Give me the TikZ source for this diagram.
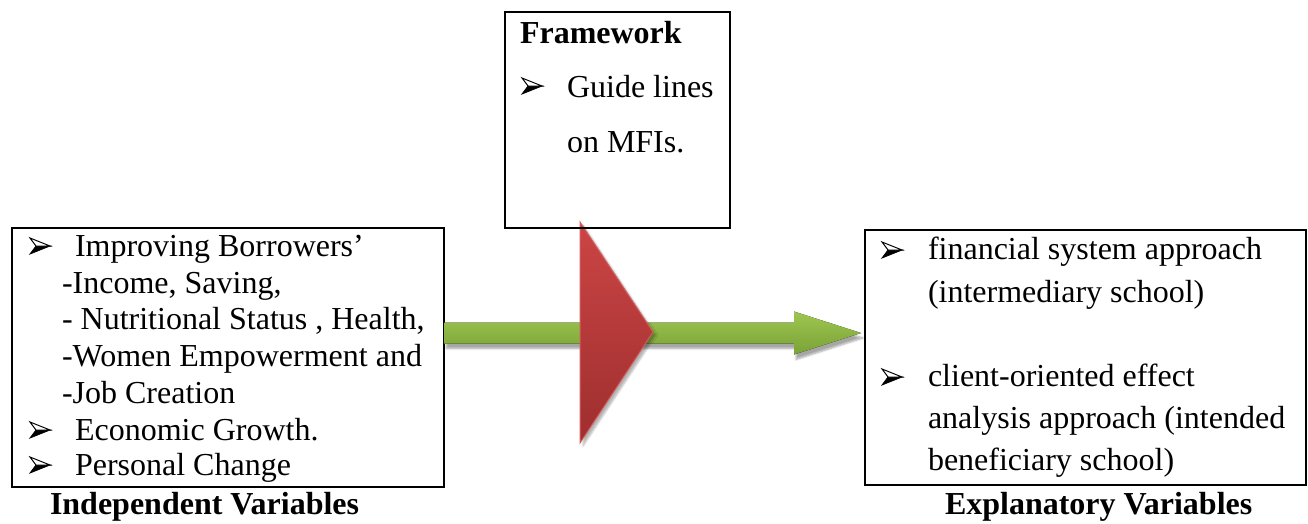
\documentclass[tikz,border=0pt]{standalone}
\usepackage{fontspec}
\setmainfont{Liberation Serif}
\newfontfamily\tnr{Liberation Serif}
\usetikzlibrary{calc,shadows.blur}
\definecolor{gtop}{HTML}{9DC651}
\definecolor{gbot}{HTML}{7AA236}
\definecolor{rtop}{HTML}{CC4545}
\definecolor{rbot}{HTML}{9E2E2E}
\definecolor{redge}{HTML}{D65C5C}
\begin{document}
\begin{tikzpicture}[x=1pt,y=-1pt,
  box/.style={draw=black,line width=2.5pt,rectangle,inner sep=0pt,outer sep=0pt,anchor=north west},
  txt/.style={anchor=base west,inner sep=0pt,outer sep=0pt,font=\tnr\fontsize{32}{38}\selectfont},
  boldtxt/.style={anchor=base west,inner sep=0pt,outer sep=0pt,font=\tnr\fontsize{32}{38}\selectfont\bfseries},
  arrowbullet/.pic={
    \filldraw[black,line width=0.8pt,line join=miter] (0,8) -- (20,0) -- (6,0) -- cycle;
    \filldraw[draw=black,fill=white,line width=1pt,line join=miter] (0,-8) -- (20,0) -- (6,0) -- cycle;
  },
  greenarrow/.style={top color=gtop,bottom color=gbot,
    blur shadow={shadow xshift=2pt,shadow yshift=-5pt,shadow blur steps=6,shadow opacity=35}},
  redtri/.style={top color=rtop,bottom color=rbot,draw=redge,line width=1pt,
    blur shadow={shadow xshift=3pt,shadow yshift=-3pt,shadow blur steps=6,shadow opacity=30}}
]
\useasboundingbox (0,0) rectangle (1308,523);

% boxes
\node[box,minimum width=432pt,minimum height=259pt] (lbox) at (12,228) {};
\node[box,minimum width=441pt,minimum height=255pt] (rbox) at (865,230) {};

% green arrow from left box to right box
\coordinate (gs) at ([yshift=24.5pt]lbox.east);
\coordinate (ge) at ([xshift=-4pt,yshift=24.5pt]rbox.west);
\fill[greenarrow] ($(gs)+(0,-10.5)$) -- ($(ge)+(-67,-10.5)$) -- ($(ge)+(-67,-21.5)$)
  -- (ge) -- ($(ge)+(-67,21.5)$) -- ($(ge)+(-67,10.5)$) -- ($(gs)+(0,10.5)$) -- cycle;

% red triangle
\path[redtri] (580,222) -- (653,332) -- (580,443) -- cycle;

% framework box
\node[box,minimum width=225pt,minimum height=216pt] (fbox) at (505,12) {};

% left box text
\pic at (30,246) {arrowbullet};
\node[txt] (l1) at (75,256) {Improving Borrowers’};
\node[txt] (l2) at (62,293) {-Income, Saving,};
\node[txt] (l3) at (62,329) {- Nutritional Status , Health,};
\node[txt] (l4) at (62,366) {-Women Empowerment and};
\node[txt] (l5) at (62,403) {-Job Creation};
\pic at (30,430) {arrowbullet};
\node[txt] (l6) at (75,440) {Economic Growth.};
\pic at (30,465) {arrowbullet};
\node[txt] (l7) at (75,475) {Personal Change};
\node[boldtxt] (lcap) at (50,514) {Independent Variables};

% framework text
\node[boldtxt] (f1) at (520,43) {Framework};
\pic at (522,86) {arrowbullet};
\node[txt] (f2) at (567,97) {Guide lines};
\node[txt] (f3) at (567,152) {on MFIs.};

% right box text
\pic at (882,250) {arrowbullet};
\node[txt] (r1) at (928,259) {financial system approach};
\node[txt] (r2) at (928,302) {(intermediary school)};
\pic at (882,377) {arrowbullet};
\node[txt] (r3) at (928,386) {client-oriented effect};
\node[txt] (r4) at (928,428) {analysis approach (intended};
\node[txt] (r5) at (928,470) {beneficiary school)};
\node[boldtxt] (rcap) at (945,514) {Explanatory Variables};
\end{tikzpicture}
\end{document}
